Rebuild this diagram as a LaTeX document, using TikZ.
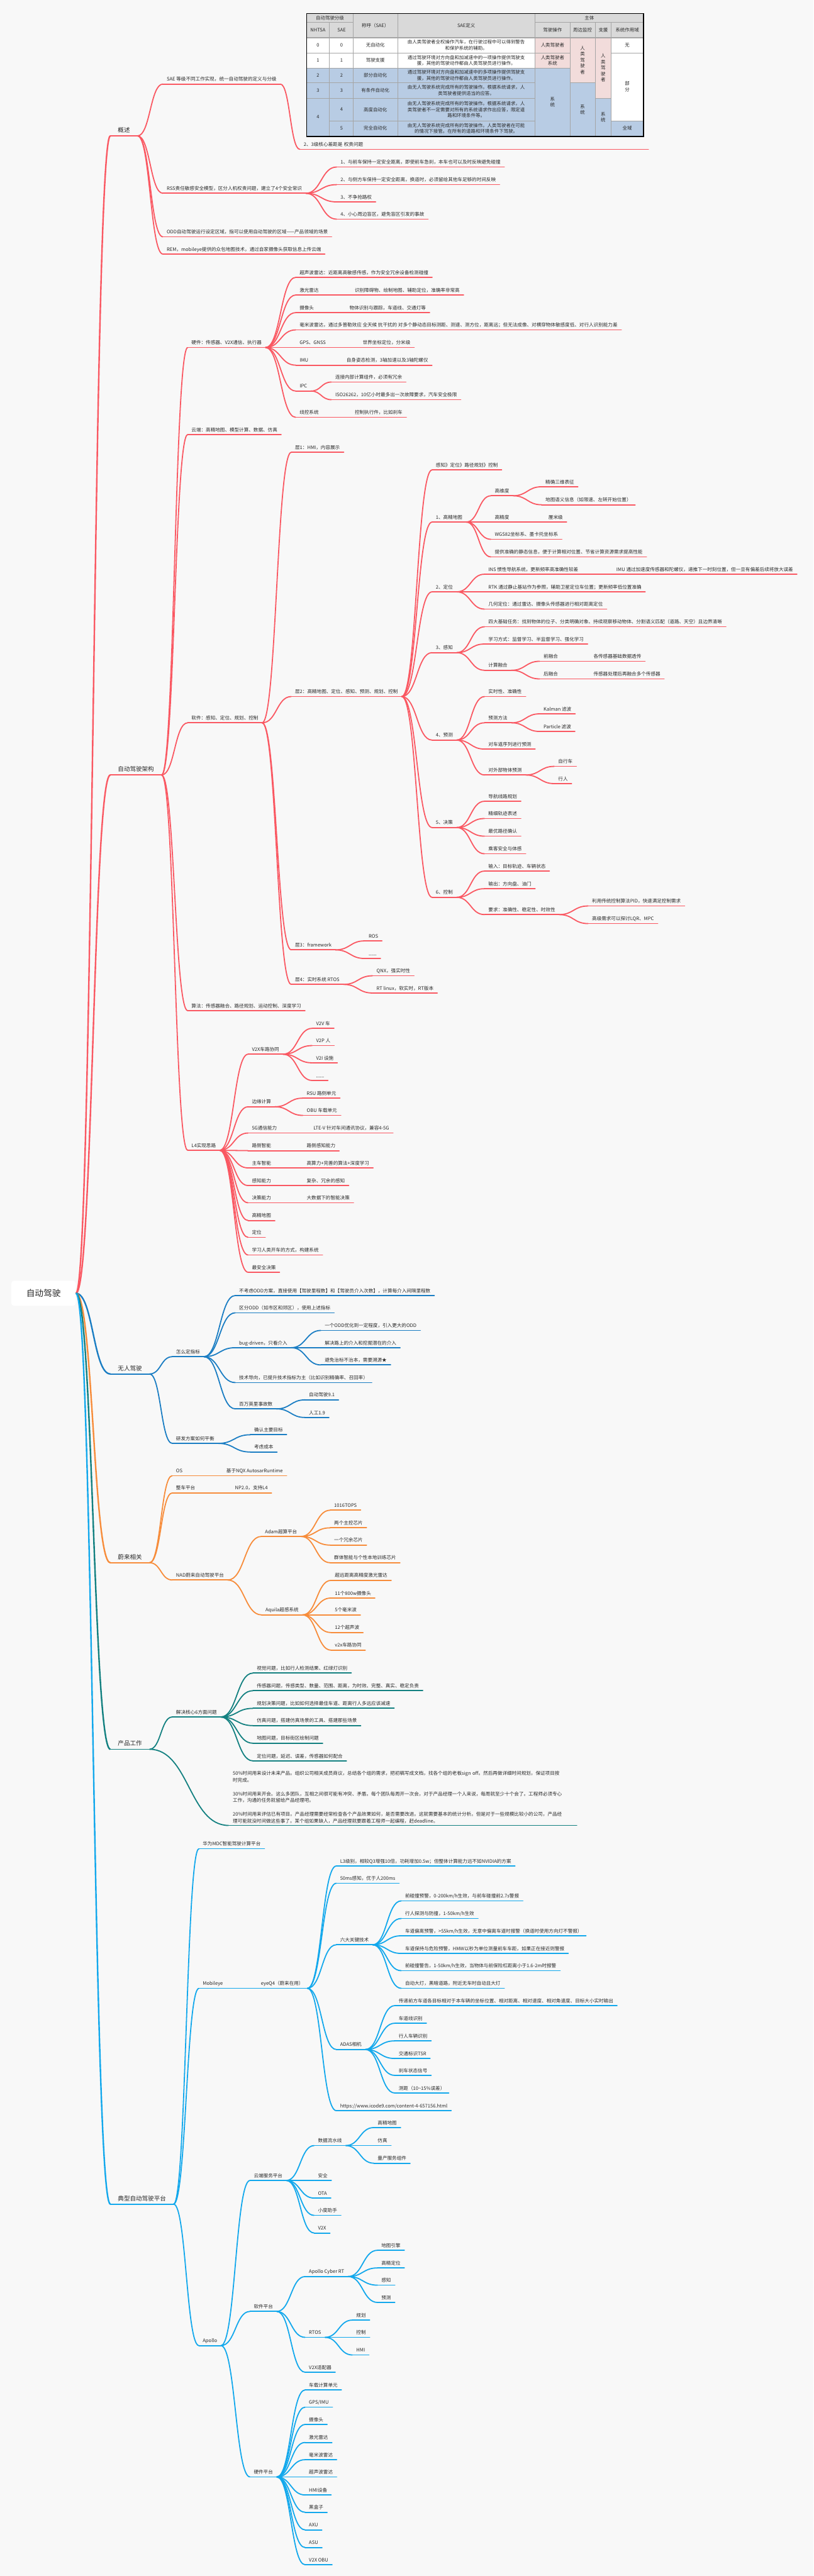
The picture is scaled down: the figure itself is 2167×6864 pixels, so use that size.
\documentclass[tikz,border=0pt]{standalone}
\usepackage{fontspec}
\setmainfont{Noto Sans CJK SC}
\usetikzlibrary{calc}
\definecolor{bg}{RGB}{248,248,248}
\definecolor{cr}{RGB}{250,88,98}
\definecolor{cb}{RGB}{26,125,195}
\definecolor{co}{RGB}{247,140,58}
\definecolor{ct}{RGB}{18,128,128}
\definecolor{cl}{RGB}{18,168,236}
\definecolor{tx}{RGB}{40,40,40}
\definecolor{thead}{RGB}{217,217,217}
\definecolor{tpink}{RGB}{242,220,219}
\definecolor{tblue}{RGB}{184,204,228}
\definecolor{tgrid}{RGB}{165,165,165}
\newcommand{\fs}{\fontsize{12.7}{15}\selectfont}
\newcommand{\nd}[5][]{\node[tn,#1] (#2) at (#3,#4) {#5};
  \draw[ul] (#2.south west) -- (#2.south east);}
\newcommand{\cn}[2]{\draw[cx] let \p1=(#1.south east),\p2=(#2.south west) in
  (\p1) .. controls ({\x1/2+\x2/2},\y1) and ({\x1/2+\x2/2},\y2) .. (\p2);}
\newcommand{\cns}[2]{\foreach \cc in {#2}{\cn{#1}{\cc}}}
\newcommand{\crt}[2]{\draw[mainline] let \p1=(#1.east),\p2=(#2.south west) in
  (\p1) .. controls ({\x1/2+\x2/2},\y1) and ({\x1/2+\x2/2},\y2) .. (\p2);}
\tikzset{
  base/.style={anchor=south west, inner xsep=10pt, inner ysep=5pt, text=tx, font=\fs},
  tn/.style={base, text height=11pt, text depth=3pt},
  mainn/.style={font=\fontsize{16}{19}\selectfont, text height=14pt, text depth=4pt, inner xsep=20pt},
  ul/.style={line width=3pt, line cap=round},
  cx/.style={line width=3pt},
  mainline/.style={line width=4pt},
  tc/.style={text=tx, font=\fontsize{12.5}{16}\selectfont, align=center, inner sep=0pt},
  rootbox/.style={fill=white, rounded corners=8pt, text=tx, font=\fontsize{23}{27}\selectfont, minimum width=172pt, minimum height=67pt, inner sep=0pt},
}
\begin{document}
\begin{tikzpicture}[x=1pt,y=-1pt]
\path[use as bounding box, fill=bg] (0,0) rectangle (2167,6864);

% ---------------- table ----------------
\fill[thead] (817,36) rectangle (1714,100);
\fill[white] (817,100) rectangle (1425,181);
\fill[tblue] (817,181) rectangle (1425,363);
\fill[tpink] (1425,100) rectangle (1519,181);
\fill[tblue] (1425,181) rectangle (1519,363);
\fill[tpink] (1519,100) rectangle (1586,221);
\fill[tblue] (1519,221) rectangle (1586,363);
\fill[tpink] (1586,100) rectangle (1628,262);
\fill[tblue] (1586,262) rectangle (1628,363);
\fill[white] (1628,100) rectangle (1714,322);
\fill[tblue] (1628,322) rectangle (1714,363);
\begin{scope}[draw=tgrid, line width=1.5pt]
\draw (878,59)--(878,363); \draw (941,36)--(941,363); \draw (1059,36)--(1059,363);
\draw (1425,36)--(1425,363); \draw (1519,59)--(1519,363); \draw (1586,59)--(1586,363);
\draw (1628,59)--(1628,363);
\draw (817,59)--(941,59); \draw (1425,59)--(1714,59);
\draw[line width=3pt] (817,100)--(1714,100);
\draw (817,141)--(1519,141); \draw (1628,141)--(1714,141);
\draw (817,181)--(1519,181);
\draw (817,221)--(1425,221); \draw (1519,221)--(1586,221);
\draw (817,262)--(1425,262); \draw (1586,262)--(1628,262);
\draw (878,322)--(1425,322); \draw (1628,322)--(1714,322);
\end{scope}
\draw[black, line width=3pt] (817,36) rectangle (1714,363);
\node[tc] (th1) at (879,48) {自动驾驶分级};
\node[tc] (th2) at (847,80) {NHTSA};
\node[tc] (th3) at (910,80) {SAE};
\node[tc] (th4) at (1000,68) {称呼（SAE）};
\node[tc] (th5) at (1242,68) {SAE定义};
\node[tc] (th6) at (1570,48) {主体};
\node[tc] (th7) at (1472,80) {驾驶操作};
\node[tc] (th8) at (1552,80) {周边监控};
\node[tc] (th9) at (1607,80) {支援};
\node[tc] (th10) at (1671,80) {系统作用域};
\node[tc] (r0a) at (847,120) {0}; \node[tc] (r0b) at (910,120) {0};
\node[tc] (r0c) at (1000,120) {无自动化};
\node[tc] (r0d) at (1242,120) {由人类驾驶者全权操作汽车，在行驶过程中可以得到警告\\和保护系统的辅助。};
\node[tc] (r0e) at (1472,120) {人类驾驶者};
\node[tc] (r1a) at (847,161) {1}; \node[tc] (r1b) at (910,161) {1};
\node[tc] (r1c) at (1000,161) {驾驶支援};
\node[tc] (r1d) at (1242,161) {通过驾驶环境对方向盘和加减速中的一项操作提供驾驶支\\援，其他的驾驶动作都由人类驾驶员进行操作。};
\node[tc] (r1e) at (1472,161) {人类驾驶者\\系统};
\node[tc] (r2a) at (847,201) {2}; \node[tc] (r2b) at (910,201) {2};
\node[tc] (r2c) at (1000,201) {部分自动化};
\node[tc] (r2d) at (1242,201) {通过驾驶环境对方向盘和加减速中的多项操作提供驾驶支\\援，其他的驾驶动作都由人类驾驶员进行操作。};
\node[tc] (r3a) at (847,241) {3}; \node[tc] (r3b) at (910,241) {3};
\node[tc] (r3c) at (1000,241) {有条件自动化};
\node[tc] (r3d) at (1242,241) {由无人驾驶系统完成所有的驾驶操作。根据系统请求，人\\类驾驶者提供适当的应答。};
\node[tc] (r4a) at (847,312) {4}; \node[tc] (r4b) at (910,292) {4};
\node[tc] (r4c) at (1000,292) {高度自动化};
\node[tc] (r4d) at (1242,292) {由无人驾驶系统完成所有的驾驶操作。根据系统请求，人\\类驾驶者不一定需要对所有的系统请求作出应答，限定道\\路和环境条件等。};
\node[tc] (r5b) at (910,342) {5};
\node[tc] (r5c) at (1000,342) {完全自动化};
\node[tc] (r5d) at (1242,342) {由无人驾驶系统完成所有的驾驶操作。人类驾驶者在可能\\的情况下接管。在所有的道路和环境条件下驾驶。};
\node[tc] (v1) at (1472,272) {系\\统};
\node[tc] (v2) at (1552,160) {人\\类\\驾\\驶\\者};
\node[tc] (v3) at (1552,292) {系\\统};
\node[tc] (v4) at (1607,181) {人\\类\\驾\\驶\\者};
\node[tc] (v5) at (1607,312) {系\\统};
\node[tc] (w1) at (1671,120) {无};
\node[tc] (w2) at (1671,231) {部\\分};
\node[tc] (w3) at (1671,342) {全域};

% ---------------- root ----------------
\node[rootbox] (root) at (116,3446) {自动驾驶};

% ---------------- 概述 ----------------
\begin{scope}[color=cr]
\nd[mainn]{g1}{294}{362}{概述}
\crt{root}{g1}
\nd{a1}{434}{224}{SAE 等级不同工作实现，统一自动驾驶的定义与分级}
\nd[text width=908pt]{a1t}{799}{398}{2、3级核心差距是 权责问题}
\cn{a1}{a1t}
\nd{a2}{434}{515}{RSS责任敏感安全模型，区分人机权责问题，建立了4个安全常识}
\nd{a21}{897}{445}{1、与前车保持一定安全距离，即使前车急刹，本车也可以及时反映避免碰撞}
\nd{a22}{897}{492}{2、与侧方车保持一定安全距离，换道时，必须留给其他车足够的时间反映}
\nd{a23}{897}{538}{3、不争抢路权}
\nd{a24}{897}{584}{4、小心周边盲区，避免盲区引发的事故}
\cns{a2}{a21,a22,a23,a24}
\nd{a3}{434}{631}{ODD自动驾驶运行设定区域，指可以使用自动驾驶的区域——产品领域的场景}
\nd{a4}{434}{677}{REM，mobileye提供的众包地图技术，通过自家摄像头获取信息上传云端}
\cns{g1}{a1,a2,a3,a4}

% ---------------- 自动驾驶架构 ----------------
\nd[mainn]{g2}{294}{2065}{自动驾驶架构}
\crt{root}{g2}
\nd{b1}{500}{926}{硬件：传感器、V2X通信、执行器}
\nd{b11}{788}{739}{超声波雷达：近距离高敏感传感，作为安全冗余设备检测碰撞}
\nd{b12}{788}{786}{激光雷达}
\nd{b12a}{935}{786}{识别障碍物、绘制地图、辅助定位，准确率非常高}
\nd{b13}{788}{833}{摄像头}
\nd{b13a}{921}{833}{物体识别与跟踪，车道线、交通灯等}
\nd{b14}{788}{879}{毫米波雷达，通过多普勒效应 全天候 抗干扰的 对多个静动态目标测距、测速、测方位，距离远；但无法成像、对横穿物体敏感度低、对行人识别能力差}
\nd{b15}{788}{926}{GPS、GNSS}
\nd{b15a}{956}{926}{世界坐标定位，分米级}
\nd{b16}{788}{973}{IMU}
\nd{b16a}{913}{973}{自身姿态检测，3轴加速以及3轴陀螺仪}
\nd{b17}{788}{1042}{IPC}
\nd{b171}{883}{1018}{连接内部计算组件，必须有冗余}
\nd{b172}{883}{1065}{ISO26262，10亿小时最多出一次故障要求，汽车安全极限}
\nd{b18}{788}{1112}{线控系统}
\nd{b18a}{935}{1112}{控制执行件，比如刹车}
\cns{b1}{b11,b12,b13,b14,b15,b16,b17,b18}
\cn{b12}{b12a}\cn{b13}{b13a}\cn{b15}{b15a}\cn{b16}{b16a}\cn{b18}{b18a}
\cns{b17}{b171,b172}
\nd{b2}{500}{1158}{云端：高精地图、模型计算、数据、仿真}
\nd{b3}{500}{1926}{软件：感知、定位、规划、控制}
\nd{b31}{776}{1205}{层1：HMI，内容展示}
\nd{b32}{776}{1856}{层2：高精地图、定位、感知、预测、规划、控制}
\nd{c0}{1151}{1252}{感知》定位》路径规划》控制}
\nd{c1}{1151}{1391}{1、高精地图}
\nd{c11}{1308}{1321}{高维度}
\nd{c111}{1443}{1297}{精确三维表征}
\nd{c112}{1443}{1345}{地图语义信息（如限速、左转开始位置）}
\nd{c12}{1308}{1391}{高精度}
\nd{c12a}{1451}{1391}{厘米级}
\nd{c13}{1308}{1437}{WGS82坐标系、墨卡托坐标系}
\nd{c14}{1308}{1484}{提供准确的静态信息，便于计算相对位置、节省计算资源需求提高性能}
\cns{c1}{c11,c12,c13,c14}\cns{c11}{c111,c112}\cn{c12}{c12a}
\nd{c2}{1151}{1577}{2、定位}
\nd{c21}{1291}{1530}{INS 惯性导航系统，更新频率高准确性较差}
\nd{c21a}{1632}{1530}{IMU 通过加速度传感器和陀螺仪，递推下一时刻位置，但一旦有偏差后续将放大误差}
\nd{c22}{1291}{1577}{RTK 通过静止基站作为参照，辅助卫星定位车位置；更新频率低位置准确}
\nd{c23}{1291}{1623}{几何定位：通过雷达、摄像头传感器进行相对距离定位}
\cns{c2}{c21,c22,c23}\cn{c21}{c21a}
\nd{c3}{1151}{1739}{3、感知}
\nd{c31}{1291}{1670}{四大基础任务：找到物体的位子、分类明确对象、持续观察移动物体、分割语义匹配（道路、天空）且边界清晰}
\nd{c32}{1291}{1716}{学习方式：监督学习、半监督学习、强化学习}
\nd{c33}{1291}{1786}{计算融合}
\nd{c331}{1438}{1762}{前融合}
\nd{c331a}{1571}{1762}{各传感器基础数据透传}
\nd{c332}{1438}{1809}{后融合}
\nd{c332a}{1571}{1809}{传感器处理后再融合多个传感器}
\cns{c3}{c31,c32,c33}\cns{c33}{c331,c332}\cn{c331}{c331a}\cn{c332}{c332a}
\nd{c4}{1151}{1972}{4、预测}
\nd{c41}{1291}{1856}{实时性、准确性}
\nd{c42}{1291}{1926}{预测方法}
\nd{c421}{1438}{1902}{Kalman 滤波}
\nd{c422}{1438}{1949}{Particle 滤波}
\nd{c43}{1291}{1996}{对车道序列进行预测}
\nd{c44}{1291}{2065}{对外部物体预测}
\nd{c441}{1477}{2042}{自行车}
\nd{c442}{1477}{2088}{行人}
\cns{c4}{c41,c42,c43,c44}\cns{c42}{c421,c422}\cns{c44}{c441,c442}
\nd{c5}{1151}{2205}{5、决策}
\nd{c51}{1291}{2135}{导航线路规划}
\nd{c52}{1291}{2181}{精细轨迹表述}
\nd{c53}{1291}{2228}{最优路径确认}
\nd{c54}{1291}{2275}{乘客安全与体感}
\cns{c5}{c51,c52,c53,c54}
\nd{c6}{1151}{2391}{6、控制}
\nd{c61}{1291}{2321}{输入：目标轨迹、车辆状态}
\nd{c62}{1291}{2368}{输出：方向盘、油门}
\nd{c63}{1291}{2437}{要求：准确性、稳定性、时效性}
\nd{c631}{1567}{2414}{利用传统控制算法PID，快速满足控制需求}
\nd{c632}{1567}{2461}{高级需求可以探讨LQR、MPC}
\cns{c6}{c61,c62,c63}\cns{c63}{c631,c632}
\cns{b32}{c0,c1,c2,c3,c4,c5,c6}
\nd{b33}{776}{2531}{层3：framework}
\nd{b331}{972}{2507}{ROS}
\nd{b332}{972}{2554}{......}
\cns{b33}{b331,b332}
\nd{b34}{776}{2623}{层4：实时系统 RTOS}
\nd{b341}{993}{2600}{QNX，强实时性}
\nd{b342}{993}{2646}{RT linux，软实时，RT版本}
\cns{b34}{b341,b342}
\cns{b3}{b31,b32,b33,b34}
\nd{b4}{500}{2693}{算法：传感器融合、路径规划、运动控制、深度学习}
\nd{b5}{500}{3065}{L4实现思路}
\nd{d1}{661}{2809}{V2X车路协同}
\nd{d11}{832}{2740}{V2V 车}
\nd{d12}{832}{2786}{V2P 人}
\nd{d13}{832}{2832}{V2I 设施}
\nd{d14}{832}{2879}{......}
\cns{d1}{d11,d12,d13,d14}
\nd{d2}{661}{2949}{边缘计算}
\nd{d21}{807}{2926}{RSU 路侧单元}
\nd{d22}{807}{2972}{OBU 车载单元}
\cns{d2}{d21,d22}
\nd{d3}{661}{3019}{5G通信能力}
\nd{d3a}{825}{3019}{LTE-V 针对车间通讯协议，兼容4-5G}
\nd{d4}{661}{3066}{路侧智能}
\nd{d4a}{807}{3066}{路侧感知能力}
\nd{d5}{661}{3112}{主车智能}
\nd{d5a}{807}{3112}{高算力+完善的算法+深度学习}
\nd{d6}{661}{3159}{感知能力}
\nd{d6a}{807}{3159}{复杂、冗余的感知}
\nd{d7}{661}{3205}{决策能力}
\nd{d7a}{807}{3205}{大数据下的智能决策}
\cn{d3}{d3a}\cn{d4}{d4a}\cn{d5}{d5a}\cn{d6}{d6a}\cn{d7}{d7a}
\nd{d8}{661}{3252}{高精地图}
\nd{d9}{661}{3297}{定位}
\nd{d10}{661}{3344}{学习人类开车的方式，构建系统}
\nd{d12x}{661}{3390}{最安全决策}
\cns{b5}{d1,d2,d3,d4,d5,d6,d7,d8,d9,d10,d12x}
\cns{g2}{b1,b2,b3,b4,b5}
\end{scope}

% ---------------- 无人驾驶 ----------------
\begin{scope}[color=cb]
\nd[mainn]{g3}{294}{3661}{无人驾驶}
\crt{root}{g3}
\nd{e1}{459}{3615}{怎么定指标}
\nd{e11}{627}{3452}{不考虑ODD方案，直接使用【驾驶里程数】和【驾驶员介入次数】，计算每介入间隔里程数}
\nd{e12}{627}{3498}{区分ODD（如市区和郊区），使用上述指标}
\nd{e13}{627}{3591}{bug-driven，只看介入}
\nd{e131}{855}{3545}{一个ODD优化到一定程度，引入更大的ODD}
\nd{e132}{855}{3591}{解决路上的介入和挖掘潜在的介入}
\nd{e133}{855}{3637}{避免治标不治本，需要溯源★}
\nd{e14}{627}{3684}{技术导向，已提升技术指标为主（比如识别精确率、召回率）}
\nd{e15}{627}{3754}{百万英里事故数}
\nd{e151}{813}{3730}{自动驾驶9.1}
\nd{e152}{813}{3777}{人工1.9}
\cns{e1}{e11,e12,e13,e14,e15}\cns{e13}{e131,e132,e133}\cns{e15}{e151,e152}
\nd{e2}{459}{3846}{研发方案如何平衡}
\nd{e21}{667}{3823}{确认主要目标}
\nd{e22}{667}{3869}{考虑成本}
\cns{e2}{e21,e22}
\cns{g3}{e1,e2}
\end{scope}

% ---------------- 蔚来相关 ----------------
\begin{scope}[color=co]
\nd[mainn]{g4}{294}{4164}{蔚来相关}
\crt{root}{g4}
\nd{f1}{459}{3932}{OS}
\nd{f1a}{593}{3932}{基于NQX AutosarRuntime}
\nd{f2}{459}{3978}{整车平台}
\nd{f2a}{616}{3978}{NP2.0，支持L4}
\cn{f1}{f1a}\cn{f2}{f2a}
\nd{f3}{459}{4210}{NAD蔚来自动驾驶平台}
\nd{f31}{696}{4094}{Adam超算平台}
\nd{f311}{880}{4024}{1016TOPS}
\nd{f312}{880}{4071}{两个主控芯片}
\nd{f313}{880}{4117}{一个冗余芯片}
\nd{f314}{880}{4164}{群体智能与个性本地训练芯片}
\cns{f31}{f311,f312,f313,f314}
\nd{f32}{697}{4303}{Aquila超感系统}
\nd{f321}{882}{4211}{超远距离高精度激光雷达}
\nd{f322}{882}{4258}{11个800w摄像头}
\nd{f323}{882}{4303}{5个毫米波}
\nd{f324}{882}{4350}{12个超声波}
\nd{f325}{882}{4397}{v2x车路协同}
\cns{f32}{f321,f322,f323,f324,f325}
\cns{f3}{f31,f32}
\cns{g4}{f1,f2,f3}
\end{scope}

% ---------------- 产品工作 ----------------
\begin{scope}[color=ct]
\nd[mainn]{g5}{294}{4661}{产品工作}
\crt{root}{g5}
\nd{h1}{459}{4575}{解决核心6方面问题}
\nd{h11}{674}{4458}{视觉问题，比如行人检测结果、红绿灯识别}
\nd{h12}{674}{4505}{传感器问题，传感类型、数量、范围、距离，为时效、完整、真实、稳定负责}
\nd{h13}{674}{4552}{规划决策问题，比如如何选择最佳车道、距离行人多远应该减速}
\nd{h14}{674}{4598}{仿真问题，搭建仿真场景的工具、搭建那些场景}
\nd{h15}{674}{4645}{地图问题，目标街区绘制问题}
\nd{h16}{674}{4692}{定位问题，延迟、误差，传感器如何配合}
\cns{h1}{h11,h12,h13,h14,h15,h16}
\node[base, inner xsep=11pt, inner ysep=6pt, text width=905pt, align=left, font=\fontsize{12.7}{18}\selectfont] (h2) at (609,4864) {50\%时间用来设计未来产品。组织公司相关成员商议，总结各个组的需求，把初稿写成文档，找各个组的老板sign off。然后再做详细时间规划，保证项目按\\时完成。\\[18pt]30\%时间用来开会。这么多团队，互相之间很可能有冲突、矛盾。每个团队每周开一次会，对于产品经理一个人来说，每周就至少十个会了。工程师必须专心\\工作，沟通的任务就留给产品经理吧。\\[18pt]20\%时间用来评估已有项目。产品经理需要经常检查各个产品效果如何，是否需要改进。这就需要基本的统计分析。但是对于一些规模比较小的公司，产品经\\理可能就没时间做这些事了。某个组如果缺人，产品经理就要跟着工程师一起编程，赶deadline。};
\draw[ul] (h2.south west) -- (h2.south east);
\cns{g5}{h1,h2}
\end{scope}

% ---------------- 典型自动驾驶平台 ----------------
\begin{scope}[color=cl]
\nd[mainn]{g6}{294}{5873}{典型自动驾驶平台}
\crt{root}{g6}
\nd{k1}{530}{4926}{华为MDC智能驾驶计算平台}
\nd{k2}{530}{5298}{Mobileye}
\nd{k2a}{685}{5298}{eyeQ4（蔚来在用）}
\cn{k2}{k2a}
\nd{k21}{896}{4972}{L3级别，相较Q3增强10倍，功耗增加0.5w；但整体计算能力远不如NVIDIA的方案}
\nd{k22}{896}{5018}{50ms感知，优于人200ms}
\nd{k23}{896}{5182}{六大关键技术}
\nd{k231}{1069}{5065}{前碰撞预警，0-200km/h生效，与前车碰撞前2.7s警报}
\nd{k232}{1069}{5112}{行人探测与防撞，1-50km/h生效}
\nd{k233}{1069}{5158}{车道偏离预警，>55km/h生效，无意中偏离车道时报警（换道时使用方向灯不警报）}
\nd{k234}{1069}{5205}{车道保持与危险预警，HMW以秒为单位测量前车车距，如果正在接近则警报}
\nd{k235}{1069}{5251}{前碰撞警告，1-50km/h生效，当物体与前保险杠距离小于1.6-2m时报警}
\nd{k236}{1069}{5298}{自动大灯，黑暗道路，附近无车时自动且大灯}
\cns{k23}{k231,k232,k233,k234,k235,k236}
\nd{k24}{896}{5461}{ADAS相机}
\nd{k241}{1052}{5344}{传递前方车道各目标相对于本车辆的坐标位置、相对距离、相对速度、相对角速度、目标大小实时输出}
\nd{k242}{1052}{5391}{车道线识别}
\nd{k243}{1052}{5438}{行人车辆识别}
\nd{k244}{1052}{5485}{交通标识TSR}
\nd{k245}{1052}{5530}{刹车状态信号}
\nd{k246}{1052}{5577}{测距（10\textasciitilde 15\%误差）}
\cns{k24}{k241,k242,k243,k244,k245,k246}
\nd{k25}{896}{5624}{https://www.icode9.com/content-4-657156.html}
\cns{k2a}{k21,k22,k23,k24,k25}
\nd{k3}{530}{6250}{Apollo}
\nd{k31}{666}{5810}{云端服务平台}
\nd{k311}{837}{5717}{数据流水线}
\nd{k3111}{996}{5669}{高精地图}
\nd{k3112}{996}{5717}{仿真}
\nd{k3113}{996}{5764}{量产服务组件}
\cns{k311}{k3111,k3112,k3113}
\nd{k312}{837}{5810}{安全}
\nd{k313}{837}{5857}{OTA}
\nd{k314}{837}{5903}{小度助手}
\nd{k315}{837}{5950}{V2X}
\cns{k31}{k311,k312,k313,k314,k315}
\nd{k32}{666}{6159}{软件平台}
\nd{k321}{813}{6066}{Apollo Cyber RT}
\nd{k3211}{1006}{5996}{地图引擎}
\nd{k3212}{1006}{6043}{高精定位}
\nd{k3213}{1006}{6089}{感知}
\nd{k3214}{1006}{6135}{预测}
\cns{k321}{k3211,k3212,k3213,k3214}
\nd{k322}{813}{6228}{RTOS}
\nd{k3221}{939}{6182}{规划}
\nd{k3222}{939}{6228}{控制}
\nd{k3223}{939}{6275}{HMI}
\cns{k322}{k3221,k3222,k3223}
\nd{k323}{813}{6321}{V2X适配器}
\cns{k32}{k321,k322,k323}
\nd{k33}{666}{6600}{硬件平台}
\nd{k331}{813}{6368}{车载计算单元}
\nd{k332}{813}{6414}{GPS/IMU}
\nd{k333}{813}{6460}{摄像头}
\nd{k334}{813}{6508}{激光雷达}
\nd{k335}{813}{6554}{毫米波雷达}
\nd{k336}{813}{6600}{超声波雷达}
\nd{k337}{813}{6648}{HMI设备}
\nd{k338}{813}{6694}{黑盒子}
\nd{k339}{813}{6741}{AXU}
\nd{k3310}{813}{6788}{ASU}
\nd{k3311}{813}{6834}{V2X OBU}
\cns{k33}{k331,k332,k333,k334,k335,k336,k337,k338,k339,k3310,k3311}
\cns{k3}{k31,k32,k33}
\cns{g6}{k1,k2,k3}
\end{scope}
\end{tikzpicture}
\end{document}
